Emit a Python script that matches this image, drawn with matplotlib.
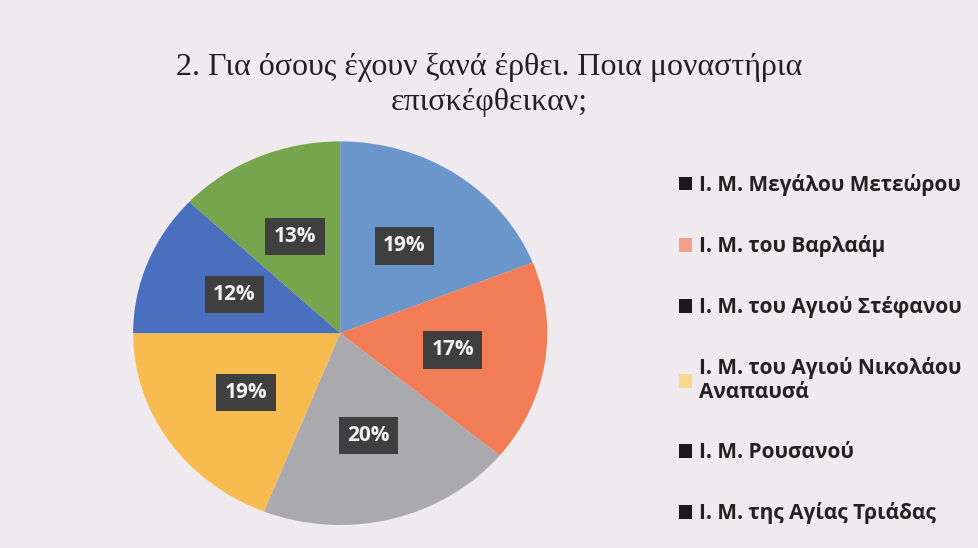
import numpy as np
import matplotlib.pyplot as plt
from matplotlib.patches import Patch

# data
monasteries = [
    'Ι. Μ. Μεγάλου Μετεώρου',
    'Ι. Μ. του Βαρλαάμ',
    'Ι. Μ. του Αγιού Στέφανου',
    'Ι. Μ. του Αγιού Νικολάου\nΑναπαυσά',
    'Ι. Μ. Ρουσανού',
    'Ι. Μ. της Αγίας Τριάδας',
]
shares = [19, 17, 20, 19, 12, 13]
slice_colors = ['#6b96cc', '#f27c55', '#aaaaae', '#f8bb50', '#4a6fbf', '#77a54d']
# legend squares as they appear in the scanned picture
legend_colors = ['#1a1a1a', '#f4a08c', '#1a1a1a', '#f6d98a', '#1a1a1a', '#1a1a1a']

bg = '#eeeaed'
fig = plt.figure(figsize=(9.79, 5.48), dpi=100, facecolor=bg)

fig.text(0.500, 0.877, '2. Για όσους έχουν ξανά έρθει. Ποια μοναστήρια',
         ha='center', va='center', fontsize=23, family='Liberation Serif', color='#222222')
fig.text(0.500, 0.813, 'επισκέφθεικαν;',
         ha='center', va='center', fontsize=23, family='Liberation Serif', color='#222222')

ax = fig.add_axes([0.136, 0.042, 0.423, 0.700])
ax.set_facecolor(bg)
wedges, _ = ax.pie(shares, colors=slice_colors, startangle=90, counterclock=False,
                   radius=1.0, wedgeprops=dict(linewidth=0))
for w, v in zip(wedges, shares):
    ang = np.deg2rad((w.theta1 + w.theta2) / 2)
    ax.text(0.55 * np.cos(ang), 0.55 * np.sin(ang), f'{v}%', ha='center', va='center',
            fontsize=15, color='#f2f2f2', family='Open Sans', fontweight='bold',
            bbox=dict(boxstyle='square,pad=0.4', fc='#3f3f3f', ec='none'))
ax.set_xlim(-1.0, 1.0)
ax.set_ylim(-1.0, 1.0)
ax.set_aspect('auto')

handles = [Patch(facecolor=c, edgecolor='none') for c in legend_colors]
leg = fig.legend(handles, monasteries, loc='upper left', bbox_to_anchor=(0.674, 0.717),
                 frameon=False, handlelength=0.65, handleheight=0.65, handletextpad=0.35,
                 labelspacing=1.875, prop=dict(family='Open Sans', weight='bold', size=15))
for t in leg.get_texts():
    t.set_color('#222222')

fig.savefig('out.png', dpi=100, facecolor=bg)
